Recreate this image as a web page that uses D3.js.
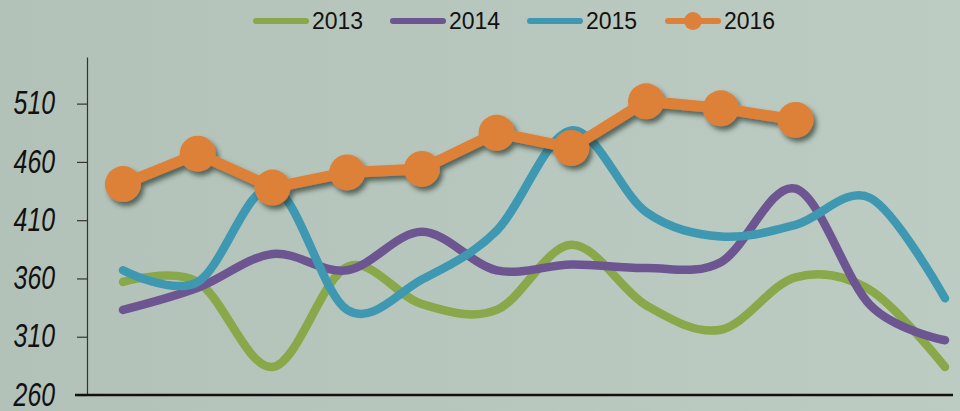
<!DOCTYPE html>
<html>
<head>
<meta charset="utf-8">
<script src="https://cdn.jsdelivr.net/npm/d3@7"></script>
<style>
  body { margin: 0; padding: 0; }
  #chart { width: 960px; height: 411px; }
</style>
</head>
<body>
<div id="chart"></div>
<script>
// Chart data
var months = ["Jan", "Feb", "Mar", "Apr", "May", "Jun", "Jul", "Aug", "Sep", "Oct", "Nov", "Dec"];
var years = ["2013", "2014", "2015", "2016"];
var values2013 = [357, 357, 284, 370, 338, 333, 389, 337, 316, 361, 350, 284];
var values2014 = [333, 352, 381, 367, 400, 367, 372, 369, 374, 437, 337, 307];
var values2015 = [367, 357, 438, 333, 359, 401, 487, 417, 396, 406, 429, 343];
var values2016 = [441, 467, 438, 451, 454, 485, 472, 512, 506, 496];
var yTicks = [260, 310, 360, 410, 460, 510];
var colors = ["#88a84a", "#6d5591", "#3f98b1", "#dd8039"];

var series = [values2013, values2014, values2015, values2016];

// SVG size and margins
var svgWidth = 960;
var svgHeight = 411;
var margin = { top: 57, right: 10, bottom: 16, left: 87 };
var width = svgWidth - margin.left - margin.right;
var height = svgHeight - margin.top - margin.bottom;

var svg = d3.select("#chart")
    .append("svg")
    .attr("width", svgWidth)
    .attr("height", svgHeight);

// background gradient and shadow filter
var defs = svg.append("defs");
var grad = defs.append("linearGradient")
    .attr("id", "bg")
    .attr("x1", "0%").attr("y1", "0%")
    .attr("x2", "100%").attr("y2", "0%");
grad.append("stop").attr("offset", "0%").attr("stop-color", "#b3c2b8");
grad.append("stop").attr("offset", "100%").attr("stop-color", "#bdccc3");

var shadow = defs.append("filter")
    .attr("id", "shadow")
    .attr("x", "-20%").attr("y", "-50%")
    .attr("width", "140%").attr("height", "200%");
shadow.append("feDropShadow")
    .attr("dx", 3)
    .attr("dy", 4)
    .attr("stdDeviation", 2.5)
    .attr("flood-color", "#2b3a33")
    .attr("flood-opacity", 0.7);

svg.append("rect")
    .attr("width", svgWidth)
    .attr("height", svgHeight)
    .attr("fill", "url(#bg)");

var chartGroup = svg.append("g")
    .attr("transform", `translate(${margin.left}, ${margin.top})`);

// scales
var xScale = d3.scalePoint()
    .domain(months)
    .range([36, 858]);

var yScale = d3.scaleLinear()
    .domain([260, 550])
    .range([height, 0]);

// y axis
var labelSquash = 0.73;
var leftAxis = d3.axisLeft(yScale)
    .tickValues(yTicks)
    .tickSize(10)
    .tickSizeOuter(0)
    .tickPadding(22);

var yAxis = chartGroup.append("g")
    .call(leftAxis);
yAxis.select(".domain").attr("stroke", "#333").attr("stroke-width", 1.2);
yAxis.selectAll(".tick line").attr("stroke", "#333").attr("stroke-width", 1.2);
// condensed italic labels: squash horizontally
yAxis.selectAll(".tick text")
    .attr("font-family", "'Liberation Sans', Arial, sans-serif")
    .attr("font-style", "italic")
    .attr("font-size", 34)
    .attr("fill", "#111")
    .attr("x", -32 / labelSquash)
    .attr("dy", "0.3em")
    .attr("transform", `scale(${labelSquash}, 1)`);

// x axis line
chartGroup.append("line")
    .attr("x1", -12)
    .attr("x2", width + 3)
    .attr("y1", height)
    .attr("y2", height)
    .attr("stroke", "#111")
    .attr("stroke-width", 2.5);

// smoothed lines for 2013-2015
var smoothLine = d3.line()
    .x((d, i) => xScale(months[i]))
    .y(d => yScale(d))
    .curve(d3.curveCardinal.tension(0));

for (var s = 0; s < 3; s++) {
    chartGroup.append("path")
        .datum(series[s])
        .attr("d", smoothLine)
        .attr("fill", "none")
        .attr("stroke", colors[s])
        .attr("stroke-width", 8.5)
        .attr("stroke-linecap", "round")
        .attr("stroke-linejoin", "round");
}

// 2016 straight line with markers and shadow
var straightLine = d3.line()
    .x((d, i) => xScale(months[i]))
    .y(d => yScale(d));

var g2016 = chartGroup.append("g")
    .attr("filter", "url(#shadow)");

g2016.append("path")
    .datum(values2016)
    .attr("d", straightLine)
    .attr("fill", "none")
    .attr("stroke", colors[3])
    .attr("stroke-width", 11)
    .attr("stroke-linejoin", "round");

g2016.selectAll("circle")
    .data(values2016)
    .enter()
    .append("circle")
    .attr("cx", (d, i) => xScale(months[i]))
    .attr("cy", d => yScale(d))
    .attr("r", 18)
    .attr("fill", colors[3]);

// legend
var legendX = [253, 390, 527, 665];
var legend = svg.append("g");

years.forEach(function (yr, i) {
    var lg = legend.append("g")
        .attr("transform", `translate(${legendX[i]}, 21)`);
    lg.append("line")
        .attr("x1", 3).attr("x2", 53)
        .attr("y1", 0).attr("y2", 0)
        .attr("stroke", colors[i])
        .attr("stroke-width", 6)
        .attr("stroke-linecap", "round");
    if (i === 3) {
        lg.append("circle")
            .attr("cx", 28).attr("cy", 0)
            .attr("r", 9)
            .attr("fill", colors[i]);
    }
    lg.append("text")
        .attr("x", 59)
        .attr("y", 0)
        .attr("dy", "0.36em")
        .attr("font-family", "'Liberation Sans', Arial, sans-serif")
        .attr("font-size", 23)
        .attr("fill", "#111")
        .text(yr);
});
</script>
</body>
</html>
